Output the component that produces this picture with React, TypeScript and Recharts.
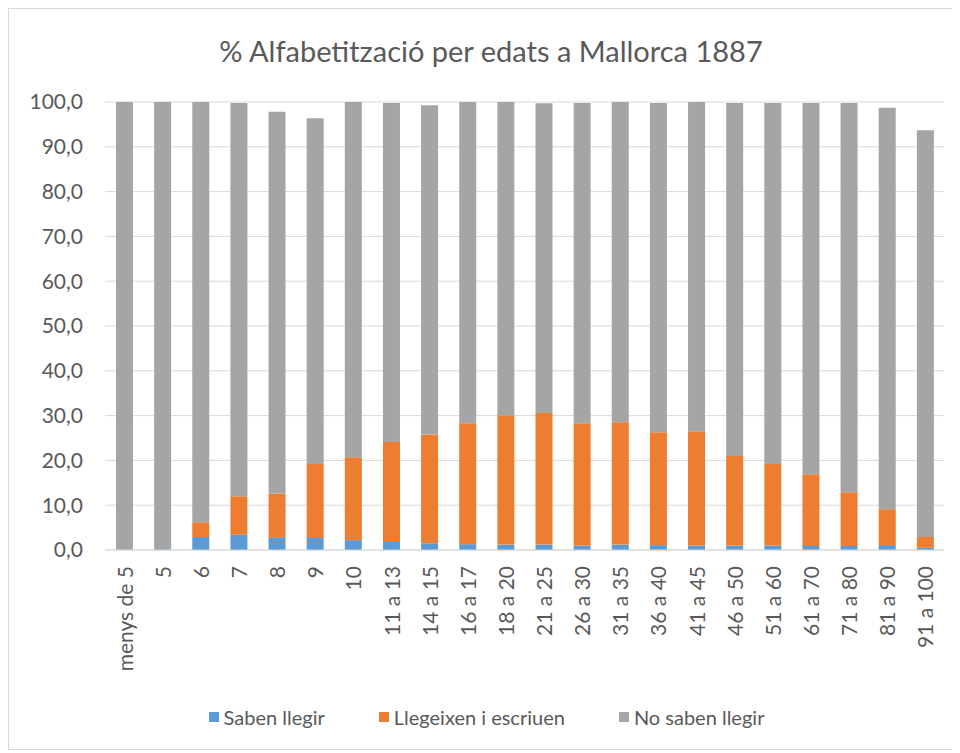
import React from 'react';
import { BarChart, Bar, XAxis, YAxis, CartesianGrid, Legend } from 'recharts';

const CATEGORIES = [
  'menys de 5', '5', '6', '7', '8', '9', '10', '11 a 13', '14 a 15', '16 a 17', '18 a 20',
  '21 a 25', '26 a 30', '31 a 35', '36 a 40', '41 a 45', '46 a 50', '51 a 60', '61 a 70',
  '71 a 80', '81 a 90', '91 a 100',
];
const SABEN_LLEGIR = [0, 0.2, 2.9, 3.4, 2.7, 2.7, 2.2, 1.8, 1.5, 1.3, 1.2, 1.2, 1.0, 1.2, 1.1, 1.0, 1.0, 1.0, 0.9, 0.9, 1.1, 0.5];
const LLEGEIXEN_I_ESCRIUEN = [0, 0, 3.3, 8.6, 9.9, 16.5, 18.5, 22.3, 24.3, 27.0, 28.9, 29.4, 27.3, 27.3, 25.2, 25.5, 20.0, 18.2, 16.0, 12.0, 8.0, 2.4];
const NO_SABEN_LLEGIR = [100, 99.8, 93.8, 87.8, 85.2, 77.2, 79.3, 75.7, 73.5, 71.7, 69.9, 69.1, 71.5, 71.5, 73.5, 73.5, 78.8, 80.6, 82.9, 86.9, 89.6, 90.8];
const Y_TICKS = [0, 10, 20, 30, 40, 50, 60, 70, 80, 90, 100];

const SERIES = [
  { key: 'saben', name: 'Saben llegir', color: '#5B9BD5' },
  { key: 'llegeixen', name: 'Llegeixen i escriuen', color: '#ED7D31' },
  { key: 'no', name: 'No saben llegir', color: '#A5A5A5' },
];

const FONT = 'Lato, "Open Sans", sans-serif';
const TEXT = '#595959';

const data = CATEGORIES.map((c, i) => ({
  name: c,
  saben: SABEN_LLEGIR[i],
  llegeixen: LLEGEIXEN_I_ESCRIUEN[i],
  no: NO_SABEN_LLEGIR[i],
}));

const XTick = (props: any) => {
  const { x, y, payload } = props;
  return (
    <text
      x={0}
      y={0}
      transform={`translate(${x},${y + 8}) rotate(-90)`}
      textAnchor="end"
      dominantBaseline="central"
      fill={TEXT}
      fontSize={21}
      fontFamily={FONT}
    >
      {payload.value}
    </text>
  );
};

const renderLegend = () => (
  <div
    style={{
      display: 'flex',
      justifyContent: 'center',
      gap: 54,
      fontFamily: FONT,
      fontSize: 20,
      color: TEXT,
      marginLeft: 20,
    }}
  >
    {SERIES.map((s) => (
      <div key={s.key} style={{ display: 'flex', alignItems: 'center', gap: 5 }}>
        <span style={{ display: 'inline-block', width: 10, height: 10, backgroundColor: s.color }} />
        <span>{s.name}</span>
      </div>
    ))}
  </div>
);

export default function App() {
  return (
    <div
      style={{
        position: 'relative',
        width: 946,
        height: 742,
        border: '1px solid #d9d9d9',
        boxSizing: 'border-box',
        background: '#fff',
      }}
    >
      <div
        style={{
          position: 'absolute',
          top: 24,
          left: 20,
          width: 924,
          textAlign: 'center',
          fontFamily: FONT,
          fontSize: 29,
          color: TEXT,
        }}
      >
        % Alfabetització per edats a Mallorca 1887
      </div>
      <BarChart
        width={944}
        height={740}
        data={data}
        margin={{ top: 93, right: 9, bottom: 20, left: 0 }}
        barSize={17}
      >
        <CartesianGrid vertical={false} stroke="#d9d9d9" />
        <XAxis
          dataKey="name"
          interval={0}
          height={155}
          tick={<XTick />}
          tickLine={false}
          axisLine={{ stroke: '#d9d9d9' }}
        />
        <YAxis
          width={96}
          domain={[0, 100]}
          ticks={Y_TICKS}
          tickFormatter={(v: number) => v.toFixed(1).replace('.', ',')}
          tick={{ fill: TEXT, fontSize: 21, fontFamily: FONT }}
          tickLine={false}
          axisLine={false}
          tickSize={0}
          tickMargin={22}
        />
        {SERIES.map((s) => (
          <Bar
            key={s.key}
            dataKey={s.key}
            name={s.name}
            stackId="a"
            fill={s.color}
            isAnimationActive={false}
          />
        ))}
        <Legend verticalAlign="bottom" content={renderLegend} />
      </BarChart>
    </div>
  );
}
